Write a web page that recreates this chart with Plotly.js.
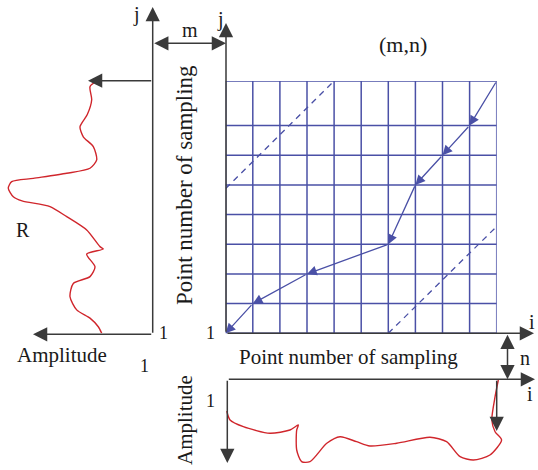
<!DOCTYPE html>
<html><head><meta charset="utf-8">
<script src="https://cdn.plot.ly/plotly-3.0.1.min.js"></script>
<style>html,body{margin:0;padding:0;background:#fff}</style>
</head><body><div id="chart" style="width:538px;height:470px"></div>
<script>
// grid lines in sampling-point units (i columns, j rows)
const gridCols = [0,1,2,3,4,5,6,7,8,9,10];
const gridRows = [0,1,2,3,4,5,6,7,8.5];
// warping path (i, j), from (m,n) back to (1,1)
const pathI = [10,9,8,7,6,3,1,0];
const pathJ = [8.5,7,6,5,3,2,1,0];
// warping window boundaries (dashed)
const upperBandI = [0,4];  const upperBandJ = [4.88,8.5];
const lowerBandI = [6,10]; const lowerBandJ = [0,3.6];
// reference signal R: amplitude vs j
const refAmp = [5.6,6.27,6.1,6.54,7.27,6.94,5.94,5.6,6.27,8.6,11.94,14.1,14.44,13.94,13.07,10.27,8.6,6.6,5.27,4.94,6.6,5.77,6.27,7.94,8.27,7.6,6.27,5.44,5.1];
const refJ   = [8.5,8.31,7.87,7.37,6.96,6.62,6.29,5.84,5.56,5.39,5.22,5.11,4.89,4.6,4.46,4.27,3.93,3.48,2.92,2.84,2.67,2.24,1.91,1.68,1.23,0.79,0.51,0.22,0];
// test signal: amplitude vs i
const testI   = [0.04,0.16,0.65,1.63,2.37,2.68,2.62,2.62,2.80,3.11,3.73,4.22,4.83,5.32,6.31,7.54,8.15,8.65,9.14,9.75,10.18,9.94,9.82,9.94,10.06];
const testAmp = [3.17,4.07,4.74,5.4,5.07,4.57,5.07,7.07,8.24,8.24,6.4,5.74,6.24,6.67,6.4,5.8,6.24,7.74,8.07,7.57,6.07,5.24,4.07,1.74,0.07];

const W = 538, H = 470;
const px = x => x / W, py = y => 1 - y / H;
const BLUE = '#4a50a6', RED = '#d0262c', GRAY = '#3a3a3a', TXT = '#1a1a1a';
const FONT = 'Liberation Serif';

const shapes = [];
gridCols.forEach(c => shapes.push({type:'line', xref:'x', yref:'y', x0:c, x1:c, y0:gridRows[0], y1:gridRows[gridRows.length-1], line:{color:BLUE, width:1.5}, layer:'below'}));
gridRows.forEach(r => shapes.push({type:'line', xref:'x', yref:'y', y0:r, y1:r, x0:gridCols[0], x1:gridCols[gridCols.length-1], line:{color:BLUE, width:1.5}, layer:'below'}));
shapes.push({type:'line', xref:'x', yref:'y', x0:upperBandI[0], x1:upperBandI[1], y0:upperBandJ[0], y1:upperBandJ[1], line:{color:BLUE, width:1.3, dash:'6px,5px'}});
shapes.push({type:'line', xref:'x', yref:'y', x0:lowerBandI[0], x1:lowerBandI[1], y0:lowerBandJ[0], y1:lowerBandJ[1], line:{color:BLUE, width:1.3, dash:'6px,5px'}});

const ann = [];
// warping path arrows
for (let k = 0; k < pathI.length - 1; k++) {
  ann.push({xref:'x', yref:'y', axref:'x', ayref:'y', x:pathI[k+1], y:pathJ[k+1], ax:pathI[k], ay:pathJ[k],
    text:'', showarrow:true, arrowhead:2, arrowsize:1.5, arrowwidth:1.3, arrowcolor:BLUE});
}
// black axis arrows: head (hx,hy), tail (tx,ty) in pixels
function arrow(tx, ty, hx, hy, both) {
  const a = {xref:'paper', yref:'paper', x:px(hx), y:py(hy), ax:tx-hx, ay:ty-hy, text:'', showarrow:true,
    arrowhead:2, arrowsize:1.9, arrowwidth:1.5, arrowcolor:GRAY};
  if (both) { a.arrowside = 'end+start'; a.startarrowhead = 2; a.startarrowsize = 1.9; }
  ann.push(a);
}
arrow(152.7, 334.3, 152.7, 7);      // left j axis
arrow(152.7, 334.3, 33, 334.3);     // left amplitude axis
arrow(152.7, 80.7, 88, 80.7);       // arrow to R start
arrow(152.7, 43.3, 226, 43.3, true);// m
arrow(226, 333.3, 226, 23);         // grid j axis
arrow(226, 333.3, 534, 333.3);      // grid i axis
arrow(507.5, 333.3, 507.5, 379.3, true); // n
arrow(227.3, 379.3, 535, 379.3);    // bottom i axis
arrow(227.3, 379.3, 227.3, 463);    // bottom amplitude axis
arrow(496.7, 379.3, 496.7, 431);    // small down arrow

function label(text, x, y, size, angle) {
  ann.push({xref:'paper', yref:'paper', x:px(x), y:py(y), text:text, showarrow:false, xanchor:'center', yanchor:'middle',
    textangle: angle || 0, font:{family:FONT, size:size, color:TXT}});
}
label('j', 136, 14, 20);
label('j', 220, 20, 20);
label('m', 190, 30, 20);
label('(m,n)', 403, 45, 22);
label('R', 23, 230, 20);
label('Amplitude', 62, 355, 21);
label('1', 163, 333, 18);
label('1', 210.5, 333, 18);
label('1', 144, 366, 18);
label('1', 210, 401, 18);
label('Point number of sampling', 348, 357, 21);
label('Point number of sampling', 185, 185, 23, -90);
label('Amplitude', 185, 420, 21, -90);
label('i', 532, 322, 20);
label('n', 525, 358, 20);
label('i', 530, 394, 20);

const data = [
  {type:'scatter', mode:'lines', x:refAmp, y:refJ, xaxis:'x2', yaxis:'y', line:{color:RED, width:1.4, shape:'spline', smoothing:0.7}, hoverinfo:'skip'},
  {type:'scatter', mode:'lines', x:testI, y:testAmp, xaxis:'x3', yaxis:'y3', line:{color:RED, width:1.4, shape:'spline', smoothing:0.7}, hoverinfo:'skip'}
];
const layout = {
  width:W, height:H, margin:{l:0,r:0,t:0,b:0}, paper_bgcolor:'#fff', plot_bgcolor:'rgba(0,0,0,0)', showlegend:false,
  font:{family:FONT},
  xaxis:{domain:[px(225.7), px(496.7)], range:[0,10], visible:false, fixedrange:true},
  yaxis:{domain:[py(333.3), py(81)], range:[0,8.5], visible:false, fixedrange:true},
  xaxis2:{domain:[0, px(152.7)], range:[15.27,0], anchor:'y', visible:false, fixedrange:true},
  xaxis3:{domain:[px(225.7), px(525.7)], range:[0, 300/27.1], anchor:'y3', visible:false, fixedrange:true},
  yaxis3:{domain:[0, py(379.3)], range:[9.07,0], anchor:'x3', visible:false, fixedrange:true},
  shapes:shapes, annotations:ann
};
Plotly.newPlot('chart', data, layout, {displayModeBar:false, staticPlot:true});
</script></body></html>
